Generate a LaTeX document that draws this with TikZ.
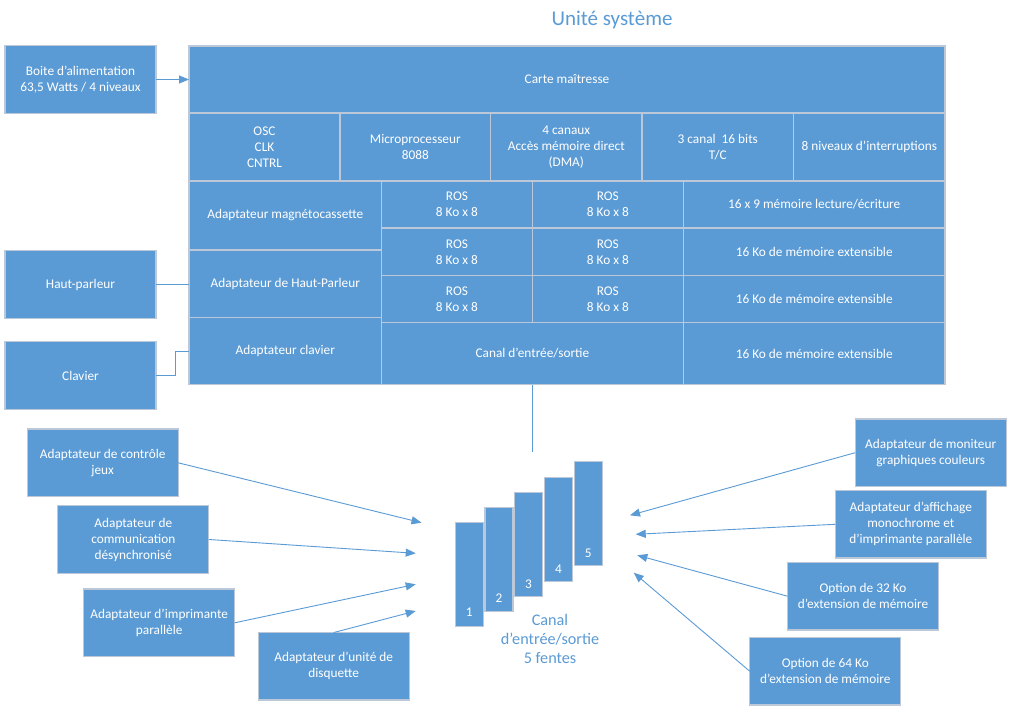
\documentclass[tikz,border=0pt]{standalone}
\usepackage{fontspec}
\setmainfont{Carlito}
\usetikzlibrary{arrows.meta}
\definecolor{boxblue}{HTML}{5B9BD5}
\definecolor{boxline}{RGB}{188,200,216}
\definecolor{connblue}{HTML}{5B9BD5}
\tikzset{
  cell/.style={rectangle, fill=boxblue, draw=boxline, line width=1.2pt, text=white,
    align=center, inner sep=1pt, outer sep=0pt,
    font=\fontsize{13.3}{16}\selectfont},
  extbox/.style={cell, minimum width=151, minimum height=67.5},
  slotbox/.style={rectangle, fill=boxblue, draw=boxline, line width=1.2pt,
    minimum width=28, minimum height=104, inner sep=0pt, outer sep=0pt},
  slotnum/.style={text=white, inner sep=0pt, font=\fontsize{13.3}{15}\selectfont},
  conn/.style={draw=connblue, line width=0.9pt},
  arr/.style={conn, -{Triangle[length=10pt,width=8pt]}},
  caption/.style={text=connblue, align=center, inner sep=0pt}
}
\begin{document}
\begin{tikzpicture}[x=1pt,y=-1pt]
\useasboundingbox (0,0) rectangle (1013,714);
\fill[white] (0,0) rectangle (1013,714);

% title
\node[caption, font=\fontsize{21}{25}\selectfont] (title) at (612,19.5) {Unité système};

% main board
\node[cell, minimum width=756, minimum height=67] (carte) at (567,79.5) {Carte maîtresse};
\node[cell, minimum width=151, minimum height=68] (osc) at (264.5,147) {OSC\\CLK\\CNTRL};
\node[cell, minimum width=150.7, minimum height=68] (micro) at (415.3,147) {Microprocesseur\\8088};
\node[cell, minimum width=151.3, minimum height=68] (dma) at (566.3,147) {4 canaux\\Accès mémoire direct\\(DMA)};
\node[cell, minimum width=151.7, minimum height=68] (tc) at (717.8,147) {3 canal\ \ 16 bits\\T/C};
\node[cell, minimum width=151.3, minimum height=68] (irq) at (869.3,147) {8 niveaux d’interruptions};

\node[cell, minimum width=192.5, minimum height=69] (magneto) at (285.3,215.5) {Adaptateur magnétocassette};
\node[cell, minimum width=192.5, minimum height=67.5] (hpad) at (285.3,283.7) {Adaptateur de Haut-Parleur};
\node[cell, minimum width=192.5, minimum height=67] (clavad) at (285.3,351) {Adaptateur clavier};

\node[cell, minimum width=150.8, minimum height=47] (rosa) at (456.9,204.5) {ROS\\8 Ko x 8};
\node[cell, minimum width=151, minimum height=47] (rosb) at (607.8,204.5) {ROS\\8 Ko x 8};
\node[cell, minimum width=150.8, minimum height=47.5] (rosc) at (456.9,251.8) {ROS\\8 Ko x 8};
\node[cell, minimum width=151, minimum height=47.5] (rosd) at (607.8,251.8) {ROS\\8 Ko x 8};
\node[cell, minimum width=150.8, minimum height=47] (rose) at (456.9,299) {ROS\\8 Ko x 8};
\node[cell, minimum width=151, minimum height=47] (rosf) at (607.8,299) {ROS\\8 Ko x 8};
\node[cell, minimum width=301.8, minimum height=62] (canal) at (532.4,353.5) {Canal d’entrée/sortie};

\node[cell, minimum width=261.7, minimum height=47] (mema) at (814.2,204.5) {16 x 9 mémoire lecture/écriture};
\node[cell, minimum width=261.7, minimum height=47.5] (memb) at (814.2,251.8) {16 Ko de mémoire extensible};
\node[cell, minimum width=261.7, minimum height=47] (memc) at (814.2,299) {16 Ko de mémoire extensible};
\node[cell, minimum width=261.7, minimum height=62] (memd) at (814.2,353.5) {16 Ko de mémoire extensible};

% external boxes, top left
\node[extbox] (boite) at (80.5,79.5) {Boite d’alimentation\\63,5 Watts / 4 niveaux};
\node[extbox] (hp) at (80.5,284.5) {Haut-parleur};
\node[extbox] (clav) at (80.5,375.5) {Clavier};

% external boxes, bottom left
\node[extbox] (jeux) at (102.7,462.8) {Adaptateur de contrôle\\jeux};
\node[extbox] (comm) at (133.3,539.5) {Adaptateur de\\communication\\désynchronisé};
\node[extbox] (impr) at (159.2,622.8) {Adaptateur d’imprimante\\parallèle};
\node[extbox] (disq) at (333.7,666.3) {Adaptateur d’unité de\\disquette};

% external boxes, bottom right
\node[extbox] (monit) at (930.7,452.7) {Adaptateur de moniteur\\graphiques couleurs};
\node[extbox] (affi) at (910.8,524.3) {Adaptateur d’affichage\\monochrome et\\d’imprimante parallèle};
\node[extbox] (opta) at (863,596.2) {Option de 32 Ko\\d’extension de mémoire};
\node[extbox] (optb) at (825.3,671.3) {Option de 64 Ko\\d’extension de mémoire};

% slots
\node[slotbox] (s1) at (469.3,574.7) {};
\node[slotbox] (s2) at (499,559.2) {};
\node[slotbox] (s3) at (528.2,544.8) {};
\node[slotbox] (s4) at (558.2,529.8) {};
\node[slotbox] (s5) at (588.3,513.8) {};
\node[slotnum] (n1) at (469.3,612.7) {1};
\node[slotnum] (n2) at (499,598) {2};
\node[slotnum] (n3) at (528.5,584) {3};
\node[slotnum] (n4) at (558.5,569) {4};
\node[slotnum] (n5) at (588.3,553) {5};
\node[caption, font=\fontsize{16.2}{19}\selectfont] (slotcap) at (550,639) {Canal\\d’entrée/sortie\\5 fentes};

% connectors
\draw[arr] (boite.east) -- (carte.west);
\draw[conn] (hp.east) -- (hp.east -| hpad.west);
\draw[conn] (clav.east) -- ++(19,0) |- (clavad.west);
\coordinate (busend) at (532.4,452);
\draw[conn] (canal.south) -- (busend);

\coordinate (la1) at (421.5,522.7);
\coordinate (la2) at (415.7,553.3);
\coordinate (la3) at (415.7,584.3);
\coordinate (la4) at (415.7,611);
\draw[arr] (jeux.east) -- (la1);
\draw[arr] (comm.east) -- (la2);
\draw[arr] (impr.east) -- (la3);
\draw[arr] (disq.north) -- (la4);

\coordinate (ra1) at (630,515.3);
\coordinate (ra2) at (635.7,534.3);
\coordinate (ra3) at (637.3,555.3);
\coordinate (ra4) at (633.7,572.7);
\draw[arr] (monit.west) -- (ra1);
\draw[arr] (affi.west) -- (ra2);
\draw[arr] (opta.west) -- (ra3);
\draw[arr] (optb.west) -- (ra4);
\end{tikzpicture}
\end{document}
